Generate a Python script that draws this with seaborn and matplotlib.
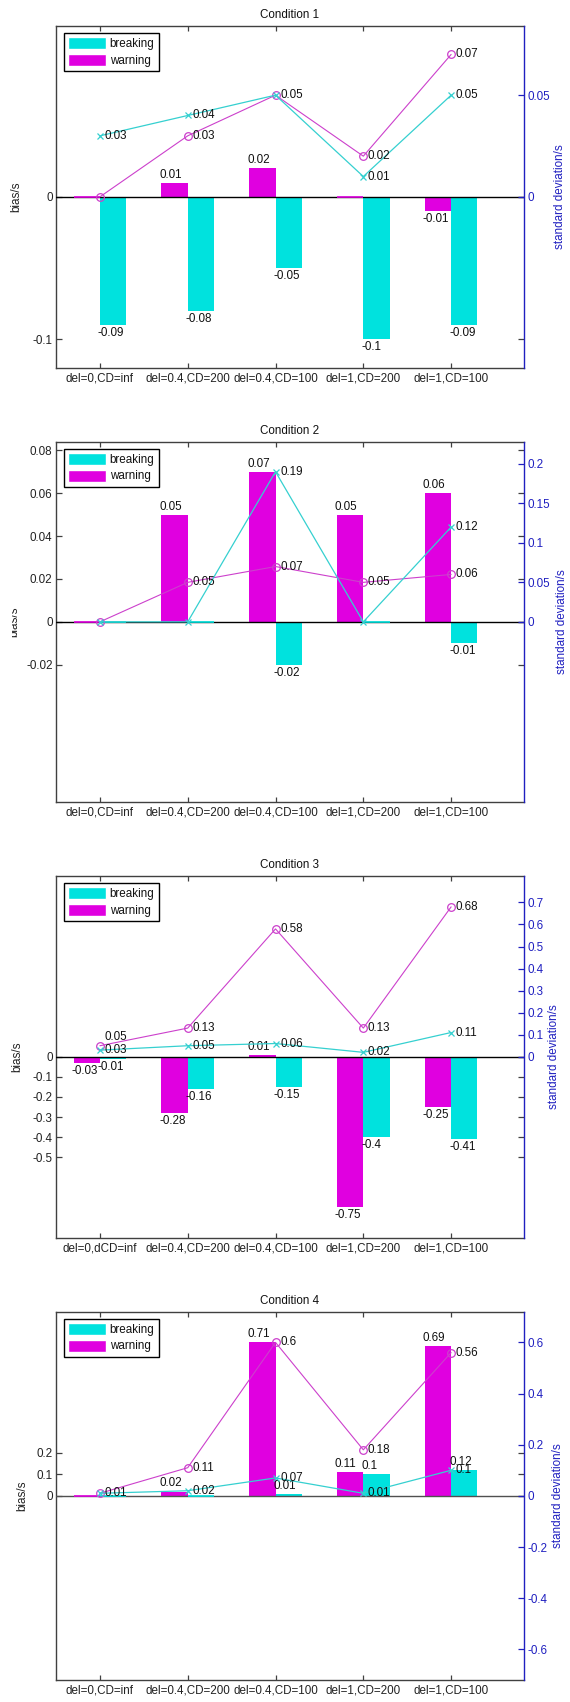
"""Bias (bars) and standard deviation (lines) of breaking / warning times, four conditions."""

import matplotlib.pyplot as plt
import pandas as pd
import seaborn as sns
from matplotlib.patches import Patch
from matplotlib.transforms import Bbox

# ── Data ──────────────────────────────────────────────────────────────────────

CATEGORIES = ["del=0,CD=inf", "del=0.4,CD=200", "del=0.4,CD=100", "del=1,CD=200", "del=1,CD=100"]
CATEGORIES_C3 = ["del=0,dCD=inf", "del=0.4,CD=200", "del=0.4,CD=100", "del=1,CD=200", "del=1,CD=100"]
TITLES = ["Condition 1", "Condition 2", "Condition 3", "Condition 4"]

bias_warning_1 = [0, 0.01, 0.02, 0, -0.01]
bias_breaking_1 = [-0.09, -0.08, -0.05, -0.10, -0.09]
std_warning_1 = [0, 0.03, 0.05, 0.02, 0.07]
std_breaking_1 = [0.03, 0.04, 0.05, 0.01, 0.05]

bias_warning_2 = [0, 0.05, 0.07, 0.05, 0.06]
bias_breaking_2 = [0, 0, -0.02, 0, -0.01]
std_warning_2 = [0, 0.05, 0.07, 0.05, 0.06]
std_breaking_2 = [0, 0, 0.19, 0, 0.12]

bias_warning_3 = [-0.03, -0.28, 0.01, -0.75, -0.25]
bias_breaking_3 = [-0.01, -0.16, -0.15, -0.40, -0.41]
std_warning_3 = [0.05, 0.13, 0.58, 0.13, 0.68]
std_breaking_3 = [0.03, 0.05, 0.06, 0.02, 0.11]

bias_warning_4 = [0, 0.02, 0.71, 0.11, 0.69]
bias_breaking_4 = [0, 0, 0.01, 0.10, 0.12]
std_warning_4 = [0.01, 0.11, 0.60, 0.18, 0.56]
std_breaking_4 = [0.01, 0.02, 0.07, 0.01, 0.10]

left_ticks = [
    [-0.1, 0],
    [-0.02, 0, 0.02, 0.04, 0.06, 0.08],
    [-0.5, -0.4, -0.3, -0.2, -0.1, 0],
    [0, 0.1, 0.2],
]
right_ticks = [
    [0, 0.05],
    [0, 0.05, 0.1, 0.15, 0.2],
    [0, 0.1, 0.2, 0.3, 0.4, 0.5, 0.6, 0.7],
    [-0.6, -0.4, -0.2, 0, 0.2, 0.4, 0.6],
]
left_lim = [0.12, 0.084, 0.9, 0.85]
right_lim = [0.084, 0.228, 0.82, 0.72]

# ── Style / layout ────────────────────────────────────────────────────────────

CYAN = "#00e2de"
MAGENTA = "#e000e0"
LINE_CYAN = "#35d0d0"
LINE_MAGENTA = "#cc40cc"
BLUE = "#2020c0"
DARK = "#404040"
FS = 8.4

W, H = 570, 1702
AX_LEFT, AX_RIGHT = 56, 524
# (top, bottom) of each axes box in pixels from the top of the figure
BOXES = [(26, 367.7), (441.7, 802), (876, 1237.5), (1311.7, 1680)]
YLABEL_X = [-0.085, -0.089, -0.082, -0.072]
Y2LABEL_X = [1.077, 1.081, 1.065, 1.073]
BASE_COLORS = ["black", "black", "black", "#505050"]
# hand nudges (points) for labels that would otherwise collide
NUDGE = {(2, 0): 6.5}

sns.set_theme(style="white")
plt.rcParams.update({
    "font.family": ["Liberation Sans", "DejaVu Sans"],
    "font.size": FS,
    "text.color": "#111111",
    "axes.linewidth": 1.0,
    "xtick.labelsize": FS,
    "ytick.labelsize": FS,
})

panels = [
    (bias_warning_1, bias_breaking_1, std_warning_1, std_breaking_1),
    (bias_warning_2, bias_breaking_2, std_warning_2, std_breaking_2),
    (bias_warning_3, bias_breaking_3, std_warning_3, std_breaking_3),
    (bias_warning_4, bias_breaking_4, std_warning_4, std_breaking_4),
]

fig = plt.figure(figsize=(W / 100, H / 100), dpi=100)
fig.patch.set_facecolor("white")

pos = list(range(len(CATEGORIES)))
BW = 0.3

for k, (bw, bb, sw, sb) in enumerate(panels):
    top, bottom = BOXES[k]
    ax = fig.add_axes([AX_LEFT / W, 1 - bottom / H, (AX_RIGHT - AX_LEFT) / W, (bottom - top) / H])
    ax.set_facecolor("white")

    df = pd.DataFrame({
        "pos": pos * 2,
        "kind": ["warning"] * len(pos) + ["breaking"] * len(pos),
        "bias": bw + bb,
    })
    sns.barplot(data=df, x="pos", y="bias", hue="kind", hue_order=["warning", "breaking"],
                palette={"warning": MAGENTA, "breaking": CYAN}, width=2 * BW, saturation=1,
                errorbar=None, legend=False, linewidth=0, ax=ax, zorder=2)
    ax.axhline(0, color=BASE_COLORS[k], lw=1, zorder=3)

    # zero-height bars show as a coloured stroke on the baseline
    for vals, col, off in ((bw, MAGENTA, -BW), (bb, CYAN, 0)):
        for p, v in zip(pos, vals):
            if v == 0:
                ax.plot([p + off, p + off + BW], [0, 0], color=col, lw=1.2, zorder=4,
                        solid_capstyle="butt")
            else:
                ax.annotate(f"{v:g}", (p + off, v), xytext=(-1.5, 1.5 if v > 0 else -1.5),
                            textcoords="offset points", ha="left",
                            va="bottom" if v > 0 else "top", fontsize=FS, zorder=5)

    ax.set_xlim(-0.5, 4.83)
    ax.set_ylim(-left_lim[k], left_lim[k])
    ax.set_yticks(left_ticks[k])
    ax.set_yticklabels([f"{t:g}" for t in left_ticks[k]])
    ax.set_xticks(pos)
    ax.set_xticklabels(CATEGORIES_C3 if k == 2 else CATEGORIES)
    ax.set_xlabel("")
    ax.set_title(TITLES[k], fontsize=FS, pad=5.5)
    ax.set_ylabel("bias/s", fontsize=FS, color="#222222")
    ax.yaxis.set_label_coords(YLABEL_X[k], 0.5)
    ax.yaxis.label.set_verticalalignment("center")

    ax2 = ax.twinx()
    ax2.plot(pos, sw, color=LINE_MAGENTA, lw=0.8, marker="o", ms=5.5, mfc="none", mew=0.9, zorder=3)
    ax2.plot(pos, sb, color=LINE_CYAN, lw=0.9, marker="x", ms=4.5, mew=0.9, zorder=3)
    for p in pos:
        # one label per distinct non-zero value at each category
        shown = []
        for vals, is_warn in ((sw, True), (sb, False)):
            v = vals[p]
            if v == 0 or v in shown:
                continue
            shown.append(v)
            dy = NUDGE.get((k, p), 0) if is_warn else 0
            ax2.annotate(f"{v:g}", (p, v), xytext=(3.3, dy), textcoords="offset points",
                         ha="left", va="center", fontsize=FS, zorder=5)
    ax2.set_ylim(-right_lim[k], right_lim[k])
    ax2.set_yticks(right_ticks[k])
    ax2.set_yticklabels([f"{t:g}" for t in right_ticks[k]])
    ax2.set_ylabel("standard deviation/s", fontsize=FS, color=BLUE, rotation=90)
    ax2.yaxis.set_label_coords(Y2LABEL_X[k], 0.5)
    ax2.yaxis.label.set_verticalalignment("center")

    for side in ("left", "top", "bottom"):
        ax.spines[side].set_color(DARK)
        ax2.spines[side].set_visible(False)
    ax.spines["right"].set_visible(False)
    ax2.spines["right"].set_color(BLUE)

    ax.tick_params(axis="x", direction="in", top=True, bottom=True, length=3.4,
                   width=0.9, color=DARK, pad=3.5, labelcolor="#222222")
    ax.tick_params(axis="y", direction="in", left=True, right=True, labelright=False,
                   length=4, width=0.9, color=DARK, pad=2.5, labelcolor="#222222")
    ax2.tick_params(axis="y", direction="in", right=True, length=4, width=0.9,
                    color=BLUE, labelcolor=BLUE, pad=2.5)
    ax.grid(False)
    ax2.grid(False)

    h_ax = bottom - top
    leg = ax2.legend(handles=[Patch(facecolor=CYAN, label="breaking"),
                              Patch(facecolor=MAGENTA, label="warning")],
                     loc="upper left", bbox_to_anchor=(7.6 / (AX_RIGHT - AX_LEFT), 1 - 6.8 / h_ax),
                     borderaxespad=0, handlelength=3.25, handleheight=1.2, labelspacing=0.3,
                     handletextpad=0.3, borderpad=0.4, fancybox=False, framealpha=1,
                     edgecolor="black", fontsize=FS)
    leg.get_frame().set_linewidth(1.0)

    if k == 1:
        # the left label of this panel is cut off in the original
        ax.yaxis.label.set_clip_box(Bbox.from_extents(12, 0, W, H))
        ax.yaxis.label.set_clip_on(True)

fig.savefig("out.png", dpi=100, facecolor="white")
